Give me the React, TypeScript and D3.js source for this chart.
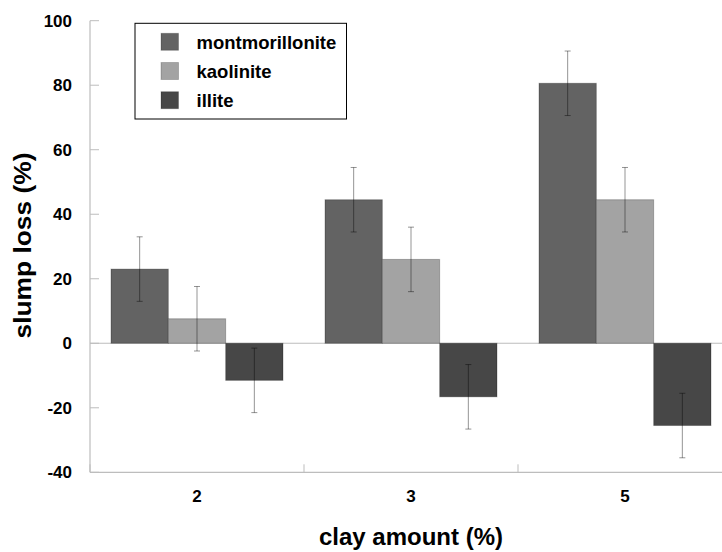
import React from "react";
import * as d3 from "d3";

const categories = ["2", "3", "5"];
const seriesNames = ["montmorillonite", "kaolinite", "illite"];
const montmorillonite = [23.0, 44.5, 80.6];
const kaolinite = [7.6, 26.0, 44.5];
const illite = [-11.5, -16.6, -25.5];
const montErr = [10, 10, 10];
const kaolErr = [10, 10, 10];
const illiteErr = [10, 10, 10];
const yTicks = [-40, -20, 0, 20, 40, 60, 80, 100];
const colors = ["#636363", "#a3a3a3", "#474747"];

const seriesValues = [montmorillonite, kaolinite, illite];
const seriesErrors = [montErr, kaolErr, illiteErr];

export default function App() {
  const W = 722, H = 552;
  const left = 90, right = 732, top = 20.7, bottom = 472.3;
  const x = d3.scaleBand<string>().domain(categories).range([left, right]).paddingInner(0).paddingOuter(0);
  const inner = d3.scaleBand<string>().domain(seriesNames).range([21, x.bandwidth() - 21]).padding(0);
  const y = d3.scaleLinear().domain([-40, 100]).range([bottom, top]);
  const font = "Arial, 'Liberation Sans', Helvetica, sans-serif";
  const axisColor = "#bdbdbd";
  const bounds = categories.map((c) => x(c)!).concat([right]);

  return (
    <svg width={W} height={H} style={{ position: "absolute", left: 0, top: 0, background: "#fff" }} fontFamily={font}>
      {/* y axis */}
      <line x1={left} x2={left} y1={top} y2={bottom} stroke={axisColor} strokeWidth={1.2} />
      {yTicks.map((t) => (
        <g key={t}>
          <line x1={left} x2={left + 9} y1={y(t)} y2={y(t)} stroke={axisColor} strokeWidth={1} />
          <text x={72} y={y(t)} dy="0.36em" textAnchor="end" fontSize={17} fontWeight="bold" fill="#000">{t}</text>
        </g>
      ))}
      {/* zero line */}
      <line x1={left} x2={right} y1={y(0)} y2={y(0)} stroke={axisColor} strokeWidth={1.2} />
      {/* x axis */}
      <line x1={left} x2={right} y1={bottom} y2={bottom} stroke={axisColor} strokeWidth={1.2} />
      {bounds.map((b, i) => (
        <line key={i} x1={b} x2={b} y1={bottom - 8} y2={bottom} stroke={axisColor} strokeWidth={1} />
      ))}
      {categories.map((c) => (
        <text key={c} x={x(c)! + x.bandwidth() / 2} y={502} textAnchor="middle" fontSize={17} fontWeight="bold" fill="#000">{c}</text>
      ))}
      {/* bars */}
      {categories.map((c, ci) =>
        seriesNames.map((s, si) => {
          const v = seriesValues[si][ci];
          const bx = x(c)! + inner(s)!;
          const y0 = y(Math.max(0, v));
          const h = Math.abs(y(v) - y(0));
          return (
            <rect key={c + s} x={bx} y={y0} width={inner.bandwidth()} height={h} fill={colors[si]} stroke="#000" strokeOpacity={0.25} strokeWidth={1} />
          );
        })
      )}
      {/* error bars */}
      {categories.map((c, ci) =>
        seriesNames.map((s, si) => {
          const v = seriesValues[si][ci];
          const e = seriesErrors[si][ci];
          const cx = x(c)! + inner(s)! + inner.bandwidth() / 2;
          return (
            <g key={"e" + c + s} stroke="#000" strokeOpacity={0.42} strokeWidth={1}>
              <line x1={cx} x2={cx} y1={y(v + e)} y2={y(v - e)} />
              <line x1={cx - 3} x2={cx + 3} y1={y(v + e)} y2={y(v + e)} />
              <line x1={cx - 3} x2={cx + 3} y1={y(v - e)} y2={y(v - e)} />
            </g>
          );
        })
      )}
      {/* legend */}
      <rect x={135} y={23.3} width={211.5} height={95.7} fill="#fff" stroke="#000" strokeWidth={1} />
      {seriesNames.map((s, i) => (
        <g key={s}>
          <rect x={161} y={33.3 + i * 29.2} width={17.5} height={17} fill={colors[i]} stroke="#000" strokeOpacity={0.2} />
          <text x={196.5} y={49.3 + i * 29} fontSize={18.5} fontWeight="bold" fill="#000">{s}</text>
        </g>
      ))}
      {/* axis titles */}
      <text x={(left + right) / 2} y={545} textAnchor="middle" fontSize={24} fontWeight="bold" fill="#000">clay amount (%)</text>
      <text transform={`translate(31,${(top + bottom) / 2 - 1}) rotate(-90)`} textAnchor="middle" fontSize={24} fontWeight="bold" fill="#000" textLength={186} lengthAdjust="spacingAndGlyphs">slump loss (%)</text>
    </svg>
  );
}
